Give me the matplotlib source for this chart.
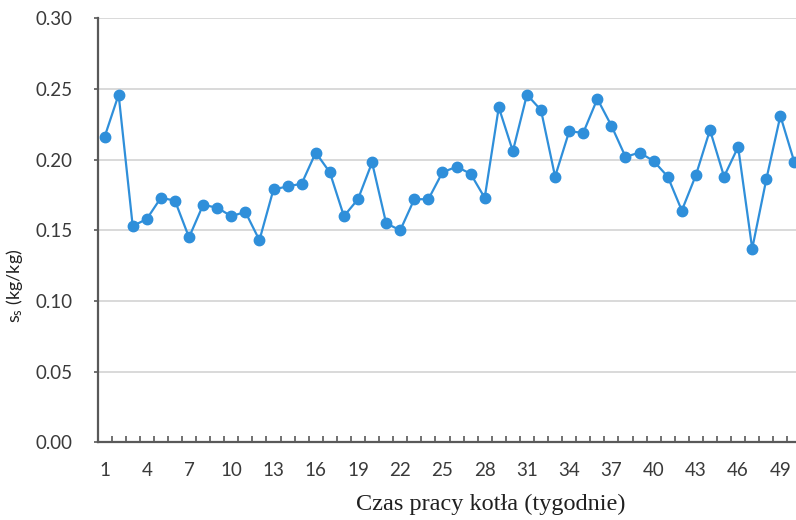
import numpy as np
import matplotlib
matplotlib.use('Agg')
import matplotlib.pyplot as plt
from matplotlib.ticker import FixedLocator

# weeks and s_s values
weeks = list(range(1, 51))
ss = [0.216, 0.246, 0.153, 0.158, 0.173, 0.171, 0.145, 0.168, 0.166, 0.160,
      0.163, 0.143, 0.179, 0.181, 0.183, 0.205, 0.191, 0.160, 0.172, 0.198,
      0.155, 0.150, 0.172, 0.172, 0.191, 0.195, 0.190, 0.173, 0.237, 0.206,
      0.246, 0.235, 0.188, 0.220, 0.219, 0.243, 0.224, 0.202, 0.205, 0.199,
      0.188, 0.164, 0.189, 0.221, 0.188, 0.209, 0.137, 0.186, 0.231, 0.198]
xticklabels = list(range(1, 51, 3))
yticks = [0.00, 0.05, 0.10, 0.15, 0.20, 0.25, 0.30]

blue = '#2F8FDA'
grey = '#595959'

fig = plt.figure(figsize=(7.96, 5.2), dpi=100)
ax = fig.add_axes([0.1225, 0.1494, 0.8844, 0.8154])

ax.plot(weeks, ss, color=blue, lw=1.6, marker='o', ms=7.5, mec=blue, mfc=blue,
        zorder=3)

ax.set_xlim(0.5, 50.5)
ax.set_ylim(0, 0.30)
ax.set_yticks(yticks)
ax.set_yticklabels(['%.2f' % v for v in yticks])
ax.set_xticks(xticklabels)
ax.set_xticklabels([str(v) for v in xticklabels])
ax.xaxis.set_minor_locator(FixedLocator(np.arange(0.5, 51, 1)))

ax.grid(axis='y', color='#D9D9D9', lw=1.4, zorder=0)
ax.set_axisbelow(True)

for s in ['top', 'right']:
    ax.spines[s].set_visible(False)
for s in ['left', 'bottom']:
    ax.spines[s].set_color(grey)
    ax.spines[s].set_linewidth(1.6)

ax.tick_params(axis='x', which='major', length=0, pad=14,
               labelsize=13.5, labelcolor='#3a3a3a')
ax.tick_params(axis='x', which='minor', direction='in', length=4, width=1.2,
               color=grey)
ax.tick_params(axis='y', direction='out', length=3, width=1.2, color=grey,
               pad=15, labelsize=13.5, labelcolor='#3a3a3a')
for lab in ax.get_xticklabels() + ax.get_yticklabels():
    lab.set_fontfamily('Lato')

ax.set_xlabel('Czas pracy kotła (tygodnie)', fontfamily='Liberation Serif',
              fontsize=17.5, color='#202020')
ax.xaxis.set_label_coords(0.559, -0.122)
ax.set_ylabel(r'$\mathregular{s_s}$ (kg/kg)', fontfamily='Lato',
              fontsize=13, color='#202020')
ax.yaxis.set_label_coords(-0.103, 0.369)

fig.savefig('out.png', dpi=100)
